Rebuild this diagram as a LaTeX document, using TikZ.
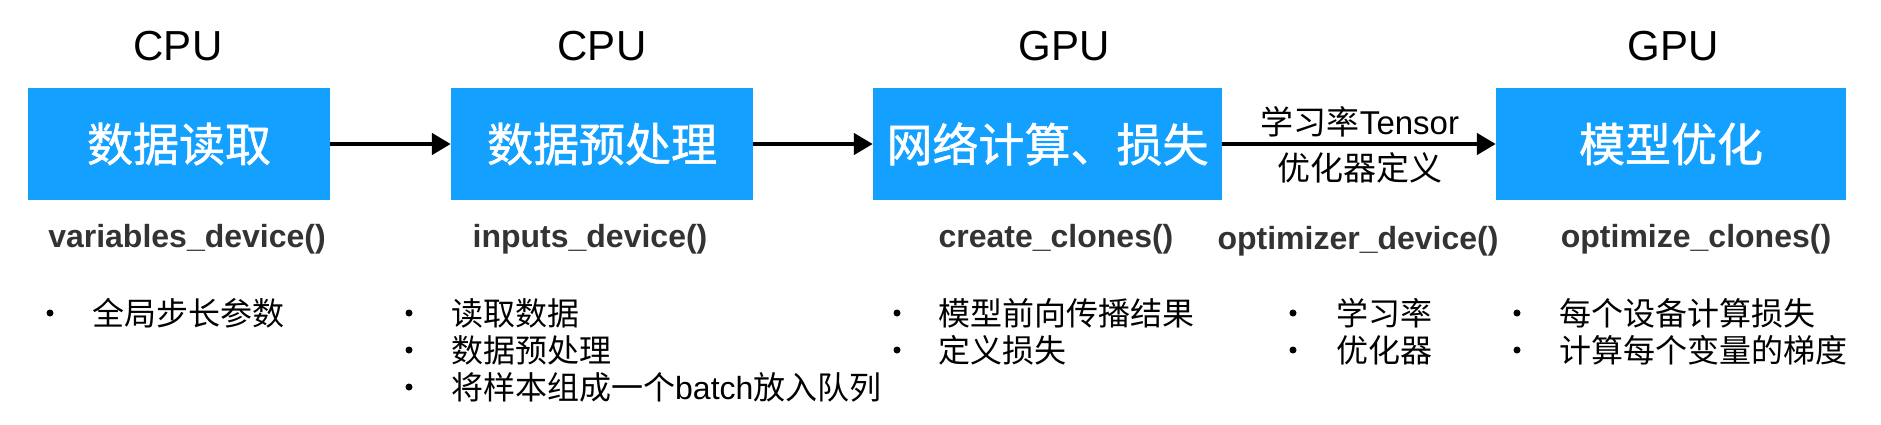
\documentclass[tikz,border=0pt]{standalone}
\usepackage{fontspec}
\setmainfont{Liberation Sans}
\newfontfamily\cjk{Noto Sans CJK SC}
\newfontfamily\cjkbox{Noto Sans CJK SC}[FakeBold=1.2]
\usetikzlibrary{arrows.meta}
\definecolor{boxblue}{RGB}{20,160,255}
\definecolor{fngray}{RGB}{51,51,51}
\begin{document}
\begin{tikzpicture}[x=1pt,y=-1pt,
  proc/.style={fill=boxblue, text=white, minimum height=112pt, inner sep=0pt, font=\cjkbox\fontsize{46}{50}\selectfont},
  dev/.style={anchor=base, inner sep=0pt, font=\fontsize{42}{48}\selectfont},
  fnlabel/.style={anchor=base, inner sep=0pt, text=fngray, font=\bfseries\fontsize{32}{36}\selectfont},
  item/.style={anchor=west, inner sep=0pt, font=\cjk\fontsize{32}{36}\selectfont},
  bdot/.style={circle, fill=black, minimum size=7pt, inner sep=0pt},
  arrlabel/.style={inner sep=0pt, font=\cjk\fontsize{33}{36}\selectfont},
  arr/.style={line width=4.5pt, -{Triangle[length=19pt,width=21pt]}}]
\useasboundingbox (0,0) rectangle (1881,424);
% boxes
\node[proc, minimum width=302pt] (b1) at (179,144) {数据读取};
\node[proc, minimum width=302pt] (b2) at (602,144) {数据预处理};
\node[proc, minimum width=349pt] (b3) at (1047.5,144) {网络计算、损失};
\node[proc, minimum width=350pt] (b4) at (1671,144) {模型优化};
% devices
\node[dev] (d1) at (178,60) {CPU};
\node[dev] (d2) at (602,60) {CPU};
\node[dev] (d3) at (1064,60) {GPU};
\node[dev] (d4) at (1673,60) {GPU};
% arrows
\draw[arr] (b1.east) -- (b2.west);
\draw[arr] (b2.east) -- (b3.west);
\draw[arr] (b3.east) -- (b4.west);
\node[arrlabel] (l1) at (1360,122) {学习率{\rmfamily Tensor}};
\node[arrlabel] (l2) at (1360,168) {优化器定义};
% function labels
\node[fnlabel] (f1) at (187,247) {variables\_device()};
\node[fnlabel] (f2) at (590,247) {inputs\_device()};
\node[fnlabel] (f3) at (1056,247) {create\_clones()};
\node[fnlabel] (f4) at (1358,249) {optimizer\_device()};
\node[fnlabel] (f5) at (1696,247) {optimize\_clones()};
% bullet lists
\node[bdot] (p11) at (50,313) {};
\node[item] (t11) at (92,313) {全局步长参数};
\node[bdot] (p21) at (409,313) {};
\node[item] (t21) at (451,313) {读取数据};
\node[bdot] (p22) at (409,350) {};
\node[item] (t22) at (451,350) {数据预处理};
\node[bdot] (p23) at (409,387) {};
\node[item] (t23) at (451,387) {将样本组成一个{\rmfamily batch}放入队列};
\node[bdot] (p31) at (897,313) {};
\node[item] (t31) at (938,313) {模型前向传播结果};
\node[bdot] (p32) at (897,350) {};
\node[item] (t32) at (938,350) {定义损失};
\node[bdot] (p41) at (1293,313) {};
\node[item] (t41) at (1336,313) {学习率};
\node[bdot] (p42) at (1293,350) {};
\node[item] (t42) at (1336,350) {优化器};
\node[bdot] (p51) at (1517,313) {};
\node[item] (t51) at (1559,313) {每个设备计算损失};
\node[bdot] (p52) at (1517,350) {};
\node[item] (t52) at (1559,350) {计算每个变量的梯度};
\end{tikzpicture}
\end{document}
